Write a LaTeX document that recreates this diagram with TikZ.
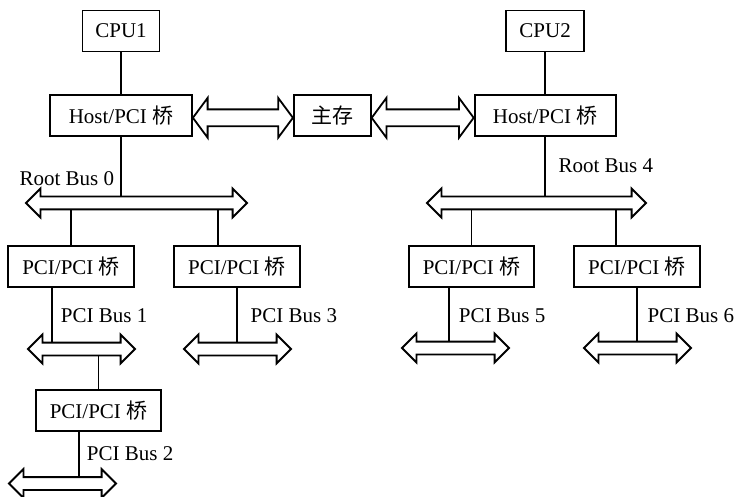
\documentclass[tikz,border=0pt]{standalone}
\usepackage{fontspec}
\setmainfont{Liberation Serif}
\newfontfamily\cjk{Noto Sans CJK SC}
\usepackage{tikz}
\usetikzlibrary{shapes.arrows, positioning, calc}

\begin{document}
\begin{tikzpicture}[node distance=42pt, line width=1.8pt,
    box/.style={draw, rectangle, minimum height=41pt, inner sep=0pt, font=\fontsize{21}{25}\selectfont},
    bus/.style={draw, double arrow, inner sep=5.5pt, double arrow head extend=8pt, double arrow tip angle=90},
    link/.style={draw, double arrow, inner sep=7.5pt, double arrow head extend=11.5pt, double arrow tip angle=107},
    lbl/.style={inner sep=0pt, font=\fontsize{21}{25}\selectfont}]
    \useasboundingbox (0,0) rectangle (734pt,-497pt);

    % Hosts and memory
    \node (cpu1) [box, minimum width=77pt] at (121pt,-31pt) {CPU1};
    \node (host1) [box, minimum width=142pt, below=of cpu1] {Host/PCI {\cjk 桥}};
    \node (mem) [box, minimum width=77pt, right=100pt of host1] {{\cjk 主存}};
    \node (host2) [box, minimum width=141pt, right=102pt of mem] {Host/PCI {\cjk 桥}};
    \node (cpu2) [box, minimum width=78pt, above=of host2] {CPU2};
    \node (link1) [link, minimum height=100pt] at ($(host1.east)!.5!(mem.west)+(0,-2pt)$) {};
    \node (link2) [link, minimum height=102pt] at ($(mem.east)!.5!(host2.west)+(0,-2pt)$) {};

    % Root buses
    \node (bus0) [bus, minimum height=221pt] at (136.5pt,-203pt) {};
    \node (bus4) [bus, minimum height=219pt] at (536.5pt,-203pt) {};

    % PCI/PCI bridges
    \node (brA) [box, minimum width=126pt] at (71pt,-266.5pt) {PCI/PCI {\cjk 桥}};
    \node (brB) [box, minimum width=126pt, right=38pt of brA] {PCI/PCI {\cjk 桥}};
    \node (brC) [box, minimum width=125pt] at (98.5pt,-410.5pt) {PCI/PCI {\cjk 桥}};
    \node (brD) [box, minimum width=125pt] at (471.5pt,-266.5pt) {PCI/PCI {\cjk 桥}};
    \node (brE) [box, minimum width=126pt, right=38pt of brD] {PCI/PCI {\cjk 桥}};

    % PCI buses
    \node (bus1) [bus, minimum height=107pt] at (81.5pt,-349pt) {};
    \node (bus3) [bus, minimum height=107pt] at (237.5pt,-349pt) {};
    \node (bus2) [bus, minimum height=107pt] at (62.5pt,-483.5pt) {};
    \node (bus5) [bus, minimum height=107pt] at (455.5pt,-348pt) {};
    \node (bus6) [bus, minimum height=107pt] at (637.5pt,-348pt) {};

    % Taps off the bridges
    \coordinate (tapB) at ([xshift=-19pt]brB.north);
    \coordinate (tap1) at ([xshift=-19pt]brA.south);
    \coordinate (tap2) at ([xshift=-19.5pt]brC.south);
    \coordinate (tapE) at ([xshift=-21pt]brE.north);
    \coordinate (tap5) at ([xshift=-22.5pt]brD.south);

    % Labels
    \node (rb0) [lbl, anchor=east] at ([xshift=-6pt,yshift=-41pt]host1.south) {Root Bus 0};
    \node (rb4) [lbl, anchor=west] at ([xshift=12.5pt,yshift=-28.5pt]host2.south) {Root Bus 4};
    \node (pb1) [lbl, anchor=west] at ([xshift=8pt,yshift=-28pt]tap1) {PCI Bus 1};
    \node (pb3) [lbl, anchor=west] at ([xshift=13pt,yshift=-28pt]brB.south) {PCI Bus 3};
    \node (pb2) [lbl, anchor=west] at ([xshift=7pt,yshift=-22pt]tap2) {PCI Bus 2};
    \node (pb5) [lbl, anchor=west] at ([xshift=9pt,yshift=-28pt]tap5) {PCI Bus 5};
    \node (pb6) [lbl, anchor=west] at ([xshift=10pt,yshift=-28pt]brE.south) {PCI Bus 6};

    % Connections
    \draw (cpu1.south) -- (cpu1.south |- host1.north);
    \draw (cpu2.south) -- (cpu2.south |- host2.north);
    \draw (host1.south) -- (host1.south |- bus0.north);
    \draw (host2.south) -- (host2.south |- bus4.north);
    \draw (brA.north) -- (brA.north |- bus0.south);
    \draw (tapB) -- (tapB |- bus0.south);
    \draw (brD.north) -- (brD.north |- bus4.south);
    \draw (tapE) -- (tapE |- bus4.south);
    \draw (tap1) -- (tap1 |- bus1.north);
    \draw (brB.south) -- (brB.south |- bus3.north);
    \draw (brC.north) -- (brC.north |- bus1.south);
    \draw (tap2) -- (tap2 |- bus2.north);
    \draw (tap5) -- (tap5 |- bus5.north);
    \draw (brE.south) -- (brE.south |- bus6.north);
\end{tikzpicture}
\end{document}
